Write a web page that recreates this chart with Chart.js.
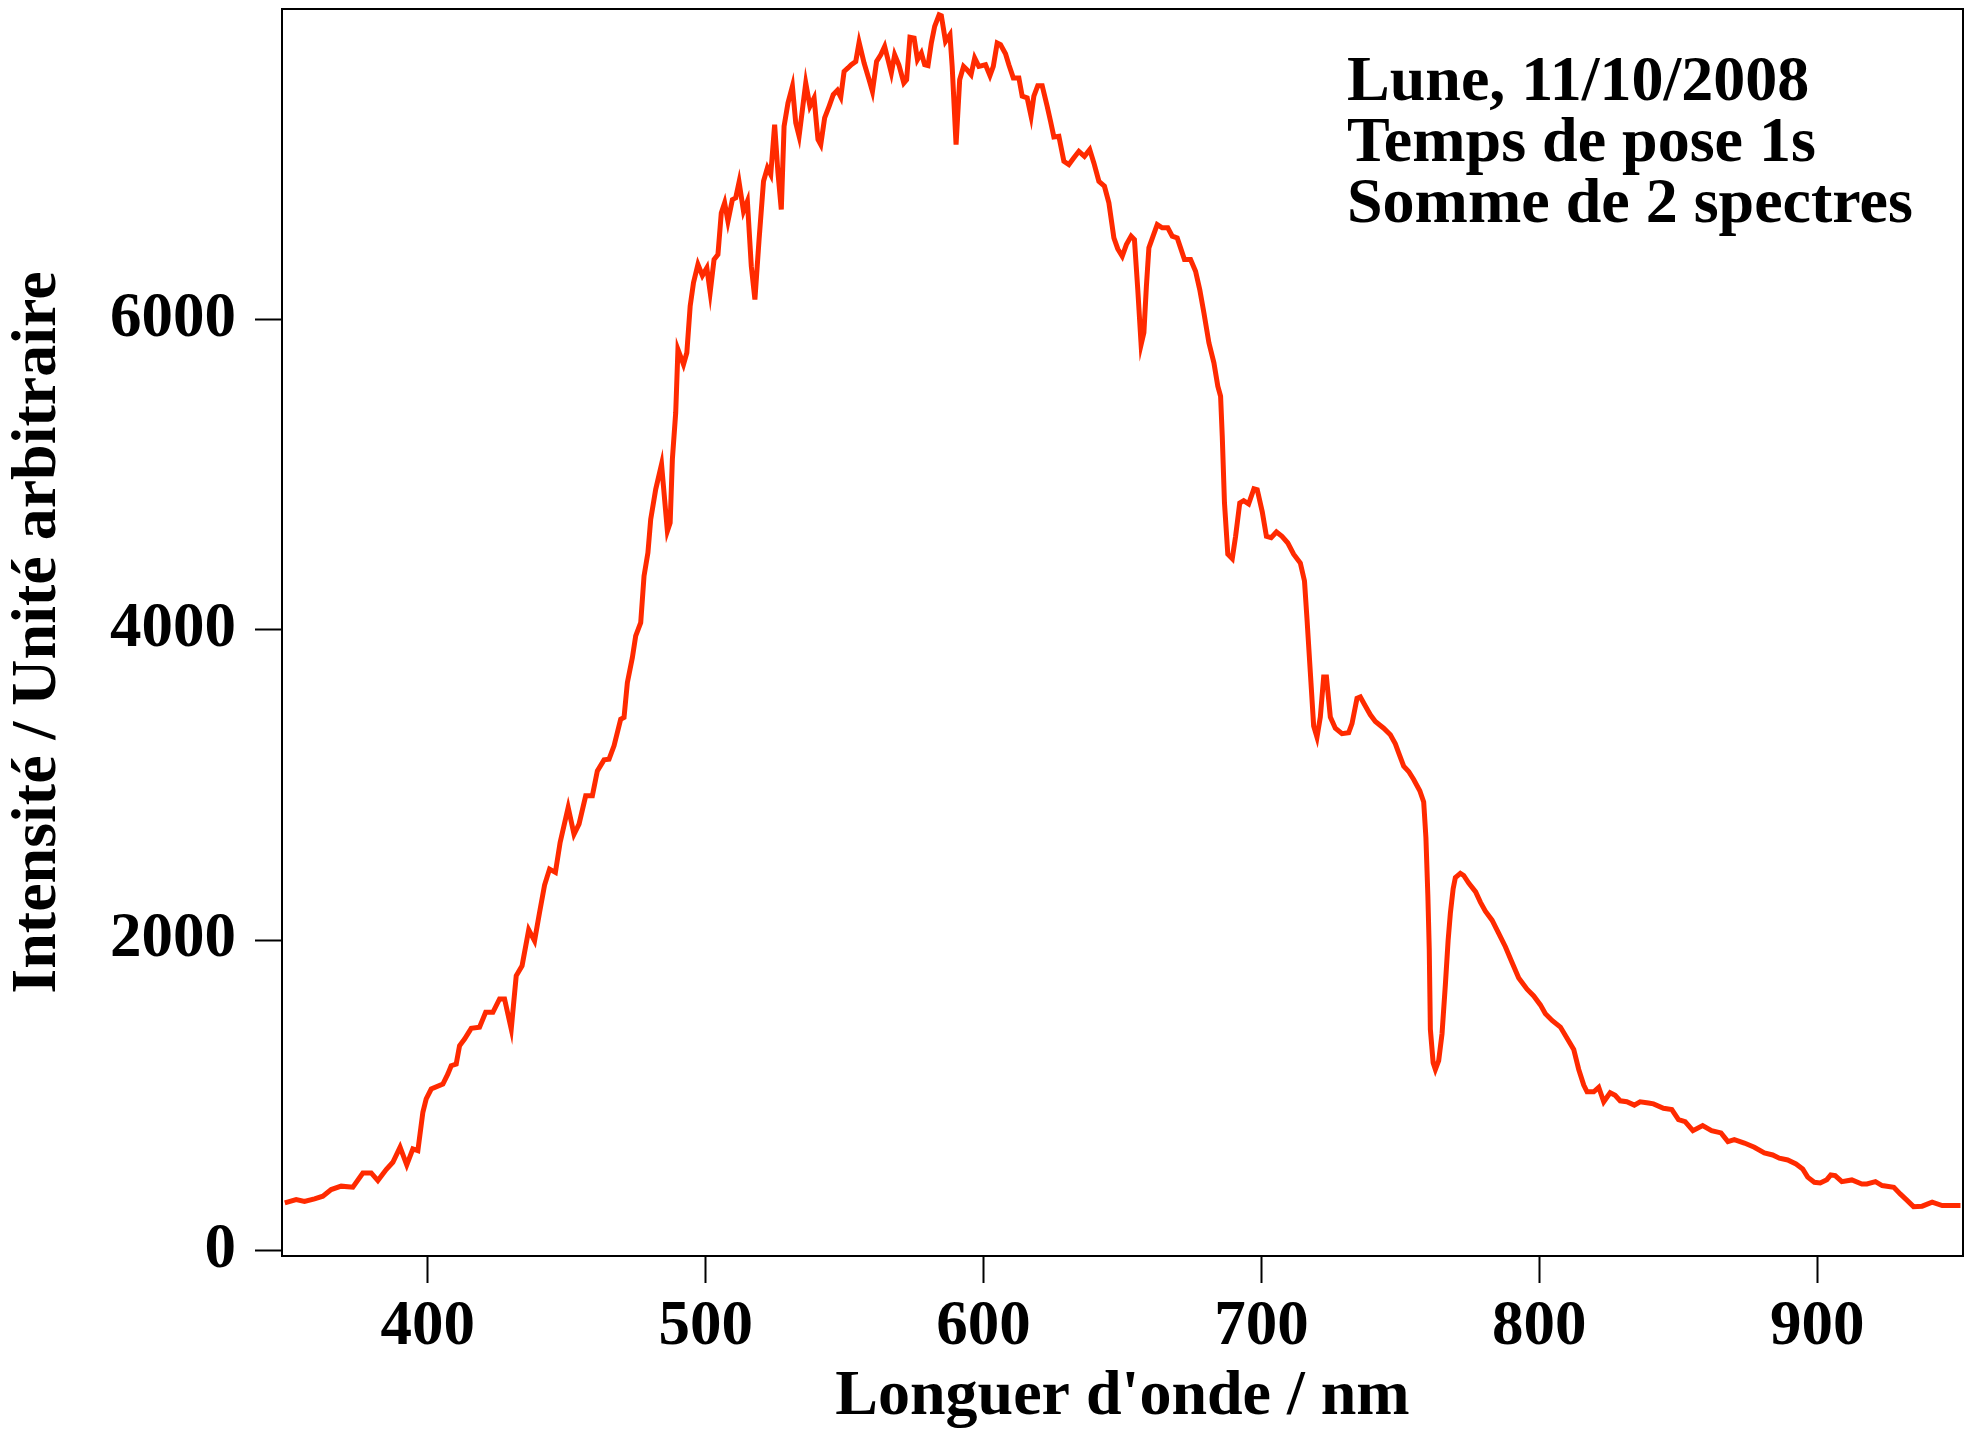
<!DOCTYPE html>
<html>
<head>
<meta charset="utf-8">
<script src="https://cdn.jsdelivr.net/npm/chart.js@4.4.1/dist/chart.umd.min.js"></script>
<style>
  html, body { margin: 0; padding: 0; background: #ffffff; }
  #wrap { width: 1966px; height: 1436px; position: relative; }
</style>
</head>
<body>
<div id="wrap"><canvas id="c" width="1966" height="1436"></canvas></div>
<script>
// Wavelength (nm)
const wavelengths = [
  348.5, 352.6, 355.6, 359.2, 362.2, 365.2, 368.8, 373.0, 376.6, 379.6,
  382.0, 385.0, 387.4, 390.0, 392.4, 394.6, 396.4, 398.2, 399.4, 401.2,
  405.4, 407.2, 408.4, 410.2, 411.4, 413.2, 415.6, 418.6, 420.8, 423.4,
  425.8, 427.6, 430.0, 431.8, 433.9, 436.3, 438.4, 440.2, 442.0, 443.8,
  445.9, 447.6, 450.5, 452.6, 454.4, 456.8, 459.2, 461.0, 463.4, 465.2,
  467.0, 469.4, 470.6, 471.8, 473.6, 474.8, 476.6, 477.8, 479.2, 480.2,
  482.0, 484.1, 486.2, 487.2, 488.0, 489.2, 490.0, 492.0, 493.2, 494.4,
  495.6, 497.2, 498.8, 500.4, 501.6, 503.0, 504.4, 505.6, 506.8, 508.0,
  509.6, 510.8, 512.0, 513.6, 515.0, 516.4, 517.7, 519.2, 520.8, 522.2,
  523.4, 524.8, 526.0, 527.2, 528.2, 529.6, 531.2, 532.4, 533.6, 534.8,
  536.0, 537.5, 539.0, 540.4, 541.4, 542.8, 544.4, 545.9, 547.4, 548.6,
  549.8, 551.2, 552.4, 554.0, 555.2, 557.0, 558.8, 560.0, 561.5, 563.0,
  564.4, 565.6, 566.8, 568.0, 569.5, 571.3, 572.3, 573.5, 575.0, 576.2,
  577.6, 578.8, 580.0, 581.2, 582.4, 584.0, 584.8, 586.3, 587.9, 588.7,
  590.1, 591.4, 592.8, 594.0, 595.5, 596.8, 598.3, 600.7, 602.3, 603.5,
  604.9, 606.1, 607.9, 609.1, 610.7, 612.7, 613.9, 615.7, 617.1, 618.1,
  619.5, 621.1, 622.9, 624.1, 625.3, 627.1, 628.9, 630.7, 632.5, 634.3,
  636.3, 638.2, 639.7, 641.5, 643.5, 645.1, 646.9, 648.3, 649.9, 651.4,
  653.1, 654.3, 655.5, 656.7, 657.7, 658.6, 659.5, 661.0, 662.5, 664.3,
  666.3, 667.9, 669.7, 670.9, 672.3, 674.5, 676.3, 677.8, 679.3, 681.1,
  682.9, 684.3, 685.3, 685.9, 686.7, 687.9, 689.5, 690.7, 692.2, 693.6,
  695.4, 697.3, 698.5, 700.3, 701.8, 703.5, 705.4, 707.4, 709.5, 711.6,
  714.0, 715.5, 716.4, 717.6, 718.8, 720.0, 721.2, 722.4, 723.4, 724.8,
  726.6, 729.0, 731.4, 732.6, 734.4, 735.6, 737.4, 739.2, 741.0, 744.0,
  746.4, 748.2, 749.4, 751.2, 753.0, 754.8, 757.0, 758.4, 759.2, 759.9,
  760.4, 760.8, 761.8, 762.6, 763.8, 765.0, 766.2, 767.2, 768.0, 769.0,
  769.8, 771.6, 772.8, 774.6, 777.1, 778.8, 780.6, 783.0, 785.4, 787.8,
  790.2, 792.6, 795.6, 798.0, 800.4, 802.2, 804.6, 807.6, 810.0, 812.4,
  814.2, 816.0, 817.2, 819.6, 821.4, 823.2, 825.5, 827.3, 829.1, 831.5,
  834.2, 836.3, 839.3, 841.1, 844.7, 847.7, 850.1, 852.5, 855.3, 858.8,
  862.0, 865.4, 867.9, 870.2, 873.8, 877.4, 881.0, 884.0, 886.4, 889.4,
  892.4, 894.8, 896.6, 899.0, 901.1, 903.5, 904.9, 906.5, 908.9, 912.5,
  916.1, 917.9, 921.0, 923.4, 927.6, 929.9, 932.1, 934.7, 937.8, 941.4,
  945.0, 951.6
];
// Intensité (unité arbitraire)
const intensity = [
  307, 328, 316, 333, 350, 393, 415, 408, 500, 500,
  451, 522, 569, 666, 552, 655, 644, 891, 977, 1041,
  1073, 1138, 1191, 1202, 1320, 1363, 1432, 1439, 1535, 1535,
  1621, 1621, 1428, 1771, 1835, 2067, 1996, 2179, 2355, 2458,
  2437, 2630, 2855, 2683, 2748, 2930, 2930, 3091, 3162, 3166,
  3252, 3424, 3435, 3660, 3821, 3960, 4046, 4347, 4497, 4712,
  4905, 5066, 4636, 4690, 5100, 5400, 5806, 5710, 5785, 6085,
  6236, 6354, 6283, 6332, 6175, 6386, 6418, 6686, 6751, 6632,
  6772, 6783, 6884, 6697, 6761, 6343, 6128, 6515, 6890, 6976,
  6933, 7255, 6944, 6708, 7244, 7394, 7502, 7266, 7180, 7352,
  7523, 7373, 7427, 7159, 7126, 7298, 7373, 7448, 7476, 7433,
  7598, 7620, 7641, 7662, 7785, 7652, 7544, 7469, 7662, 7705,
  7759, 7673, 7588, 7705, 7641, 7523, 7544, 7818, 7812, 7673,
  7716, 7641, 7635, 7781, 7888, 7963, 7957, 7791, 7834, 7630,
  7126, 7544, 7630, 7609, 7577, 7684, 7630, 7641, 7571, 7630,
  7781, 7770, 7712, 7641, 7556, 7556, 7438, 7427, 7309, 7438,
  7506, 7506, 7373, 7277, 7176, 7180, 7019, 6998, 7041, 7083,
  7051, 7094, 7008, 6890, 6858, 6751, 6525, 6454, 6407, 6482,
  6536, 6514, 6192, 5838, 5914, 6214, 6461, 6536, 6611, 6590,
  6590, 6536, 6525, 6461, 6386, 6386, 6310, 6192, 6042, 5849,
  5720, 5570, 5505, 5250, 4817, 4487, 4458, 4602, 4817, 4832,
  4811, 4909, 4903, 4760, 4602, 4593, 4630, 4602, 4559, 4487,
  4430, 4314, 4070, 3725, 3380, 3308, 3438, 3696, 3696, 3438,
  3366, 3331, 3337, 3395, 3558, 3567, 3509, 3452, 3409, 3366,
  3323, 3265, 3207, 3121, 3087, 3035, 2963, 2891, 2661, 2288,
  1943, 1426, 1210, 1167, 1224, 1397, 1713, 2000, 2173, 2331,
  2403, 2431, 2417, 2368, 2311, 2245, 2187, 2129, 2044, 1958,
  1856, 1756, 1684, 1641, 1583, 1526, 1483, 1440, 1368, 1296,
  1167, 1066, 1023, 1023, 1052, 959, 1017, 1000, 965, 959,
  937, 959, 951, 945, 917, 908, 844, 831, 773, 805,
  773, 758, 702, 715, 693, 666, 629, 616, 595, 584,
  558, 526, 473, 440, 436, 457, 487, 483, 444, 455,
  429, 429, 444, 419, 408, 365, 328, 283, 286, 312,
  290, 290
];
const xTickValues = [400, 500, 600, 700, 800, 900];
const yTickValues = [0, 2000, 4000, 6000];
const annotationLines = ['Lune, 11/10/2008', 'Temps de pose 1s', 'Somme de 2 spectres'];
const xTitle = "Longuer d'onde / nm";
const yTitle = 'Intensité / Unité arbitraire';

const FONT = "'Liberation Serif', 'Times New Roman', serif";

const points = wavelengths.map((w, i) => ({ x: w, y: intensity[i] }));

const framePlugin = {
  id: 'frameAndNote',
  afterDraw(chart) {
    const { ctx, chartArea: a } = chart;
    ctx.save();
    ctx.strokeStyle = '#000';
    ctx.lineWidth = 2;
    ctx.strokeRect(a.left, a.top, a.right - a.left, a.bottom - a.top);
    ctx.fillStyle = '#000';
    ctx.font = "bold 64px " + FONT;
    ctx.textAlign = 'left';
    ctx.textBaseline = 'alphabetic';
    const x0 = a.right - 616;
    annotationLines.forEach((t, i) => {
      ctx.fillText(t, x0, a.top + 91 + i * 61);
    });
    ctx.restore();
  }
};

function noPad(s) {
  s.paddingTop = 0; s.paddingBottom = 0; s.paddingLeft = 0; s.paddingRight = 0;
}

new Chart(document.getElementById('c'), {
  type: 'line',
  data: {
    datasets: [{
      data: points,
      borderColor: '#ff2a00',
      borderWidth: 5,
      pointRadius: 0,
      tension: 0,
      fill: false
    }]
  },
  options: {
    responsive: false,
    animation: false,
    devicePixelRatio: 1,
    layout: { padding: { top: 9, right: 3, left: 0, bottom: 0 } },
    plugins: { legend: { display: false }, tooltip: { enabled: false } },
    scales: {
      x: {
        type: 'linear',
        min: 347.5,
        max: 952.5,
        afterBuildTicks: (s) => { s.ticks = xTickValues.map(v => ({ value: v })); },
        afterFit: (s) => { s.height = 180; noPad(s); },
        grid: { drawOnChartArea: false, drawTicks: true, tickLength: 27, tickWidth: 2, tickColor: '#000' },
        border: { display: true, color: '#000', width: 2 },
        ticks: {
          color: '#000',
          padding: 7,
          maxRotation: 0,
          font: { family: FONT, size: 63, weight: 'bold' },
          callback: (v) => String(v)
        },
        title: {
          display: true,
          text: xTitle,
          color: '#000',
          padding: { top: 0, bottom: 0 },
          font: { family: FONT, size: 64, weight: 'bold' }
        }
      },
      y: {
        type: 'linear',
        min: -35,
        max: 8000,
        afterBuildTicks: (s) => { s.ticks = yTickValues.map(v => ({ value: v })); },
        afterFit: (s) => { s.width = 282; noPad(s); },
        grid: { drawOnChartArea: false, drawTicks: true, tickLength: 27, tickWidth: 2, tickColor: '#000' },
        border: { display: true, color: '#000', width: 2 },
        ticks: {
          color: '#000',
          padding: 19,
          font: { family: FONT, size: 63, weight: 'bold' },
          callback: (v) => String(v)
        },
        title: {
          display: true,
          text: yTitle,
          color: '#000',
          padding: { top: 0, bottom: 0 },
          font: { family: FONT, size: 64, weight: 'bold' }
        }
      }
    }
  },
  plugins: [framePlugin]
});
</script>
</body>
</html>
